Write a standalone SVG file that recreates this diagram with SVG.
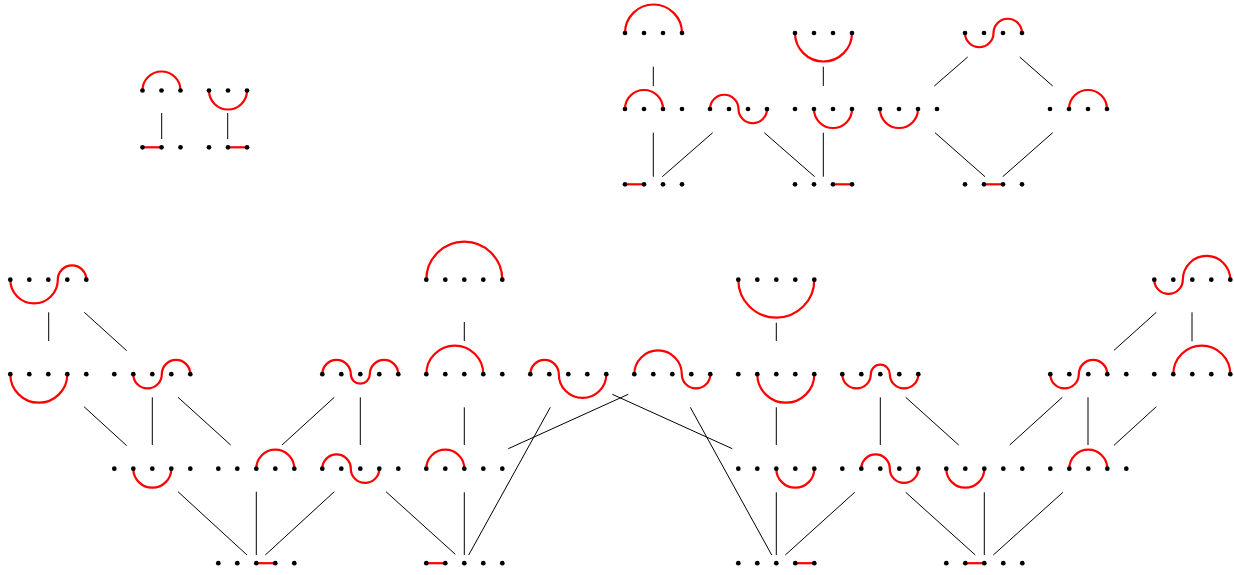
<svg xmlns="http://www.w3.org/2000/svg" xmlns:xlink="http://www.w3.org/1999/xlink" width="1234" height="575" viewBox="0 0 1234 575">
<style>
.arc{fill:none;stroke:#ff0000;stroke-width:2.2;}
.edge{fill:none;stroke:#000;stroke-width:1;}
.dot{fill:#000;}
</style>
<defs>
<g id="d3"><circle class="dot" cx="0" cy="0" r="2.35"/><circle class="dot" cx="19" cy="0" r="2.35"/><circle class="dot" cx="38" cy="0" r="2.35"/></g>
<g id="d4"><use xlink:href="#d3"/><circle class="dot" cx="57" cy="0" r="2.35"/></g>
<g id="d5"><use xlink:href="#d4"/><circle class="dot" cx="76" cy="0" r="2.35"/></g>
</defs>
<rect width="1234" height="575" fill="#fff"/>
<g id="connectors">
<path class="edge" d="M161.7 113V139M227.7 113V139"/>
<path class="edge" d="M653.3 66.7V86M823.3 66.7V86M653.3 132.7V176.7M712.7 132.7L662.3 176.7M764.3 132.7L814.7 176.7M823.3 132.7V176.7"/>
<path class="edge" d="M967.7 57L934.3 86M1019.7 57L1052.7 86M935 132.7L985 176.7M1052.7 132.7L1002.7 176.7"/>
<path class="edge" d="M48.7 312.3V341M84.3 312.3L126.7 350.7M464.3 322V341M776.3 322.7V341M1156.3 312.3L1114 350.3M1192 312.3V341.3"/>
<path class="edge" d="M84 406.7L126.7 445.7M152.3 397.3V445M178 397.3L230.7 445M334.3 397.3L282 445M360.3 397.3V445M464.3 407.3V445M550.3 407.3L468.7 555M628.3 394.3L508.3 448.7M612.3 394.3L732.3 448.7M690.3 407.3L771.7 555M776.3 407.3V445M880.3 397.3V445M905.7 397.3L958.7 445M1062.3 397.3L1009.7 445M1088 397.3V445M1156.3 406.7L1114 445.3"/>
<path class="edge" d="M178 491.7L247 555M256.3 491.7V555M334.3 491.7L265.3 555M386 491.7L455.3 554.3M464.3 492.3V555M776.3 492.3V555M854.7 492.3L785.3 555M905.7 492.3L975.3 555M984.3 492.3V555M1062.9 492.3L993.3 555"/>
</g>
<g id="tl1"><path class="arc" d="M142.5 90.5A19 19 0 0 1 180.5 90.5"/><use xlink:href="#d3" x="142.5" y="90.5"/></g>
<g id="tl2"><path class="arc" d="M209 90.5A19 19 0 0 0 247 90.5"/><use xlink:href="#d3" x="209" y="90.5"/></g>
<g id="tl3"><path class="arc" d="M142.5 147.3H161.5"/><use xlink:href="#d3" x="142.5" y="147.3"/></g>
<g id="tl4"><path class="arc" d="M228 147.3H247"/><use xlink:href="#d3" x="209" y="147.3"/></g>

<g id="tr1"><path class="arc" d="M625 33A28.5 28.5 0 0 1 682 33"/><use xlink:href="#d4" x="625" y="33"/></g>
<g id="tr2"><path class="arc" d="M795 33A28.5 28.5 0 0 0 852 33"/><use xlink:href="#d4" x="795" y="33"/></g>
<g id="tr3"><path class="arc" d="M625 109A19 19 0 0 1 663 109"/><use xlink:href="#d4" x="625" y="109"/></g>
<g id="tr4"><path class="arc" d="M710 109A14.25 14.25 0 0 1 738.5 109A14.25 14.25 0 0 0 767 109"/><use xlink:href="#d4" x="710" y="109"/></g>
<g id="tr5"><path class="arc" d="M814 109A19 19 0 0 0 852 109"/><use xlink:href="#d4" x="795" y="109"/></g>
<g id="tr6"><path class="arc" d="M625 184.3H644"/><use xlink:href="#d4" x="625" y="184.3"/></g>
<g id="tr7"><path class="arc" d="M833 184.3H852"/><use xlink:href="#d4" x="795" y="184.3"/></g>
<g id="tr8"><path class="arc" d="M965 33A14.25 14.25 0 0 0 993.5 33A14.25 14.25 0 0 1 1022 33"/><use xlink:href="#d4" x="965" y="33"/></g>
<g id="tr9"><path class="arc" d="M880 109A19 19 0 0 0 918 109"/><use xlink:href="#d4" x="880" y="109"/></g>
<g id="tr10"><path class="arc" d="M1069 109A19 19 0 0 1 1107 109"/><use xlink:href="#d4" x="1050" y="109"/></g>
<g id="tr11"><path class="arc" d="M984 184.3H1003"/><use xlink:href="#d4" x="965" y="184.3"/></g>

<g id="r1a"><path class="arc" d="M10.3 279.7A23.75 23.75 0 0 0 57.8 279.7A14.25 14.25 0 0 1 86.3 279.7"/><use xlink:href="#d5" x="10.3" y="279.7"/></g>
<g id="r1b"><path class="arc" d="M426.3 279.7A38 38 0 0 1 502.3 279.7"/><use xlink:href="#d5" x="426.3" y="279.7"/></g>
<g id="r1c"><path class="arc" d="M738.3 279.7A38 38 0 0 0 814.3 279.7"/><use xlink:href="#d5" x="738.3" y="279.7"/></g>
<g id="r1d"><path class="arc" d="M1154.3 279.7A14.25 14.25 0 0 0 1182.8 279.7A23.75 23.75 0 0 1 1230.3 279.7"/><use xlink:href="#d5" x="1154.3" y="279.7"/></g>

<g id="r2a"><path class="arc" d="M10.3 374.2A28.5 28.5 0 0 0 67.3 374.2"/><use xlink:href="#d5" x="10.3" y="374.2"/></g>
<g id="r2b"><path class="arc" d="M133.3 374.2A14.25 14.25 0 0 0 161.8 374.2A14.25 14.25 0 0 1 190.3 374.2"/><use xlink:href="#d5" x="114.3" y="374.2"/></g>
<g id="r2c"><path class="arc" d="M322.3 374.2A14.25 14.25 0 0 1 350.8 374.2A9.5 9.5 0 0 0 369.8 374.2A14.25 14.25 0 0 1 398.3 374.2"/><use xlink:href="#d5" x="322.3" y="374.2"/></g>
<g id="r2d"><path class="arc" d="M426.3 374.2A28.5 28.5 0 0 1 483.3 374.2"/><use xlink:href="#d5" x="426.3" y="374.2"/></g>
<g id="r2e"><path class="arc" d="M530.3 374.2A14.25 14.25 0 0 1 558.8 374.2A23.75 23.75 0 0 0 606.3 374.2"/><use xlink:href="#d5" x="530.3" y="374.2"/></g>
<g id="r2f"><path class="arc" d="M634.3 374.2A23.75 23.75 0 0 1 681.8 374.2A14.25 14.25 0 0 0 710.3 374.2"/><use xlink:href="#d5" x="634.3" y="374.2"/></g>
<g id="r2g"><path class="arc" d="M757.3 374.2A28.5 28.5 0 0 0 814.3 374.2"/><use xlink:href="#d5" x="738.3" y="374.2"/></g>
<g id="r2h"><path class="arc" d="M842.3 374.2A14.25 14.25 0 0 0 870.8 374.2A9.5 9.5 0 0 1 889.8 374.2A14.25 14.25 0 0 0 918.3 374.2"/><use xlink:href="#d5" x="842.3" y="374.2"/></g>
<g id="r2i"><path class="arc" d="M1050.3 374.2A14.25 14.25 0 0 0 1078.8 374.2A14.25 14.25 0 0 1 1107.3 374.2"/><use xlink:href="#d5" x="1050.3" y="374.2"/></g>
<g id="r2j"><path class="arc" d="M1173.3 374.2A28.5 28.5 0 0 1 1230.3 374.2"/><use xlink:href="#d5" x="1154.3" y="374.2"/></g>

<g id="r3a"><path class="arc" d="M133.3 468.7A19 19 0 0 0 171.3 468.7"/><use xlink:href="#d5" x="114.3" y="468.7"/></g>
<g id="r3b"><path class="arc" d="M256.3 468.7A19 19 0 0 1 294.3 468.7"/><use xlink:href="#d5" x="218.3" y="468.7"/></g>
<g id="r3c"><path class="arc" d="M322.3 468.7A14.25 14.25 0 0 1 350.8 468.7A14.25 14.25 0 0 0 379.3 468.7"/><use xlink:href="#d5" x="322.3" y="468.7"/></g>
<g id="r3d"><path class="arc" d="M426.3 468.7A19 19 0 0 1 464.3 468.7"/><use xlink:href="#d5" x="426.3" y="468.7"/></g>
<g id="r3e"><path class="arc" d="M776.3 468.7A19 19 0 0 0 814.3 468.7"/><use xlink:href="#d5" x="738.3" y="468.7"/></g>
<g id="r3f"><path class="arc" d="M861.3 468.7A14.25 14.25 0 0 1 889.8 468.7A14.25 14.25 0 0 0 918.3 468.7"/><use xlink:href="#d5" x="842.3" y="468.7"/></g>
<g id="r3g"><path class="arc" d="M946.3 468.7A19 19 0 0 0 984.3 468.7"/><use xlink:href="#d5" x="946.3" y="468.7"/></g>
<g id="r3h"><path class="arc" d="M1069.3 468.7A19 19 0 0 1 1107.3 468.7"/><use xlink:href="#d5" x="1050.3" y="468.7"/></g>

<g id="r4a"><path class="arc" d="M256.3 563.2H275.3"/><use xlink:href="#d5" x="218.3" y="563.2"/></g>
<g id="r4b"><path class="arc" d="M426.3 563.2H445.3"/><use xlink:href="#d5" x="426.3" y="563.2"/></g>
<g id="r4c"><path class="arc" d="M795.3 563.2H814.3"/><use xlink:href="#d5" x="738.3" y="563.2"/></g>
<g id="r4d"><path class="arc" d="M965.3 563.2H984.3"/><use xlink:href="#d5" x="946.3" y="563.2"/></g>
</svg>
